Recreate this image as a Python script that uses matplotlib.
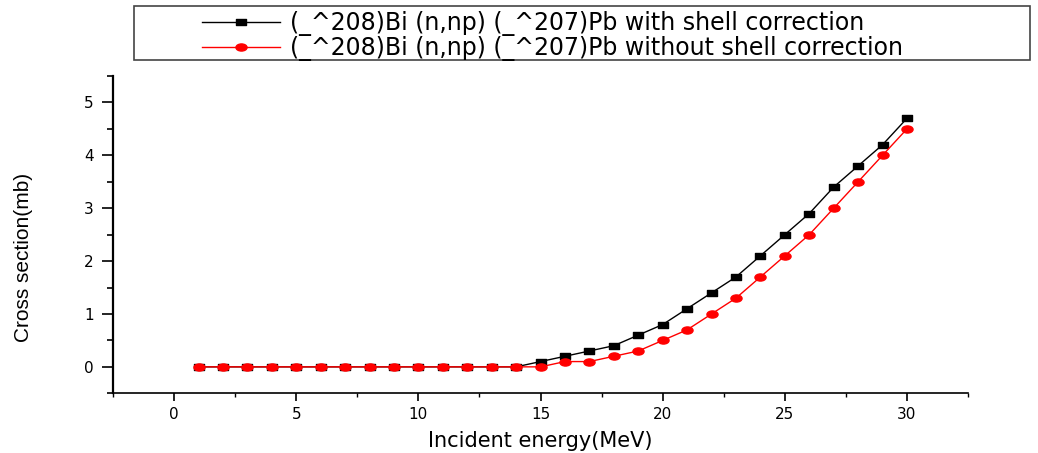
import numpy as np
import matplotlib
matplotlib.use('Agg')
import matplotlib.pyplot as plt
from matplotlib.path import Path
from matplotlib.patches import Rectangle
from matplotlib.ticker import MultipleLocator
from matplotlib.transforms import Affine2D

# 数据
energy = list(range(1, 31))
with_shell = [0, 0, 0, 0, 0, 0, 0, 0, 0, 0, 0, 0, 0, 0,
              0.1, 0.2, 0.3, 0.4, 0.6, 0.8, 1.1, 1.4, 1.7, 2.1, 2.5, 2.9, 3.4, 3.8, 4.2, 4.7]
without_shell = [0, 0, 0, 0, 0, 0, 0, 0, 0, 0, 0, 0, 0, 0,
                 0, 0.1, 0.1, 0.2, 0.3, 0.5, 0.7, 1.0, 1.3, 1.7, 2.1, 2.5, 3.0, 3.5, 4.0, 4.5]
label_with = '(_^208)Bi (n,np) (_^207)Pb with shell correction'
label_without = '(_^208)Bi (n,np) (_^207)Pb without shell correction'

plt.rcParams['font.family'] = ['DejaVu Sans']

# 扁平的方块和椭圆标记
rect_marker = Path([(-1, -0.6), (1, -0.6), (1, 0.6), (-1, 0.6), (-1, -0.6)],
                   [Path.MOVETO, Path.LINETO, Path.LINETO, Path.LINETO, Path.CLOSEPOLY])
ell_marker = Path.unit_circle().transformed(Affine2D().scale(1, 0.64))

fig = plt.figure(figsize=(10.38, 4.53), dpi=100)
ax = fig.add_axes([0.1089, 0.1318, 0.8237, 0.7004])

ax.plot(energy, with_shell, color='black', lw=1.0, marker=rect_marker,
        markersize=7.5, markerfacecolor='black', markeredgecolor='black', label=label_with)
ax.plot(energy, without_shell, color='red', lw=1.0, marker=ell_marker,
        markersize=8, markerfacecolor='red', markeredgecolor='red', label=label_without)

ax.set_xlim(-2.5, 32.5)
ax.set_ylim(-0.5, 5.5)
ax.xaxis.set_major_locator(MultipleLocator(5))
ax.xaxis.set_minor_locator(MultipleLocator(2.5))
ax.yaxis.set_major_locator(MultipleLocator(1))
ax.yaxis.set_minor_locator(MultipleLocator(0.5))

for s in ['top', 'right']:
    ax.spines[s].set_visible(False)
ax.spines['left'].set_linewidth(1.6)
ax.spines['bottom'].set_linewidth(1.2)

ax.tick_params(axis='y', which='major', direction='out', length=8, width=1.2, pad=6, labelsize=11)
ax.tick_params(axis='y', which='minor', direction='out', length=4.3, width=1.2)
ax.tick_params(axis='x', which='major', direction='out', length=6, width=1.2, pad=4, labelsize=11)
ax.tick_params(axis='x', which='minor', direction='out', length=3, width=1.0)

ax.set_xlabel('Incident energy(MeV)', fontsize=15, labelpad=6)
ax.set_ylabel('Cross section(mb)', fontsize=15, family=['Liberation Sans', 'DejaVu Sans'])
ax.yaxis.set_label_coords(-0.094, 0.427)

# 图例
h, l = ax.get_legend_handles_labels()
fig.legend(h, l, loc='upper left', bbox_to_anchor=(202 / 1038, 0.976), frameon=False,
           fontsize=17, handlelength=3.3, handletextpad=0.42, labelspacing=0.0,
           borderpad=0, borderaxespad=0)
fig.patches.append(Rectangle((134 / 1038, 1 - 60 / 453), (1030 - 134) / 1038, 54 / 453,
                             transform=fig.transFigure, fill=False, edgecolor='#444444', lw=1.2))

plt.savefig('out.png', dpi=100)
